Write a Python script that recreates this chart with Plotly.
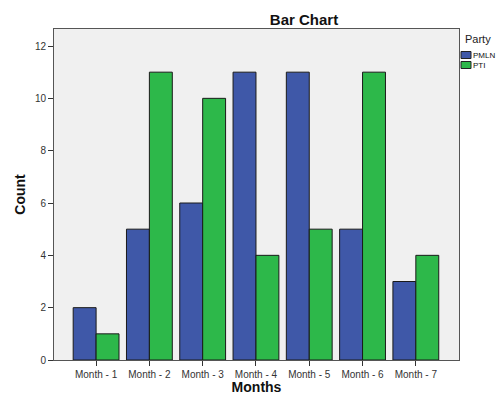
import plotly.graph_objects as go

months = ["Month - 1", "Month - 2", "Month - 3", "Month - 4", "Month - 5", "Month - 6", "Month - 7"]
pmln = [2, 5, 6, 11, 11, 5, 3]
pti = [1, 11, 10, 4, 5, 11, 4]
y_ticks = [0, 2, 4, 6, 8, 10, 12]
series_names = ["PMLN", "PTI"]
series_colors = ["#3F58A8", "#2DB84A"]

W, H = 496, 395
L, R, T, B = 54, 37, 29, 35

fig = go.Figure()
for name, vals, col in zip(series_names, [pmln, pti], series_colors):
    fig.add_trace(go.Bar(x=months, y=vals, name=name, showlegend=False,
                         marker=dict(color=col, line=dict(color="#1a1a1a", width=1))))

# manual legend in paper coords (outside plot area at right)
pw, ph = W - L - R, H - T - B
def px_x(x):
    return (x - L) / pw
def px_y(y):
    return (H - B - y) / ph

shapes = []
annotations = [dict(text="Party", x=px_x(463), y=px_y(39), xref="paper", yref="paper",
                    xanchor="left", yanchor="middle", showarrow=False,
                    font=dict(size=11, color="#222"))]
for i, (name, col) in enumerate(zip(series_names, series_colors)):
    yc = 55 + i * 10
    shapes.append(dict(type="rect", xref="paper", yref="paper",
                       x0=px_x(461), x1=px_x(471), y0=px_y(yc - 3.5), y1=px_y(yc + 3.5),
                       fillcolor=col, line=dict(color="#222", width=1)))
    annotations.append(dict(text=name, x=px_x(471), y=px_y(yc), xref="paper", yref="paper",
                            xanchor="left", yanchor="middle", showarrow=False,
                            font=dict(size=8, color="#111")))

fig.update_layout(
    width=W, height=H,
    margin=dict(l=L, r=R, t=T, b=B, autoexpand=False),
    paper_bgcolor="white", plot_bgcolor="#F0F0F0",
    barmode="group", bargap=0.14, bargroupgap=0,
    font=dict(family="Liberation Sans, Arial, sans-serif", size=10, color="#333"),
    title=dict(text="<b>Bar Chart</b>", x=304/W, xanchor="center", y=1-20/H, yanchor="middle",
               font=dict(size=15, color="#111")),
    shapes=shapes, annotations=annotations,
    showlegend=False,
)
fig.update_xaxes(
    range=[-0.79, 6.81], showline=True, linecolor="#555", linewidth=1, mirror=True,
    ticks="outside", ticklen=5, tickcolor="#333", showgrid=False,
    title=dict(text="<b>Months</b>", font=dict(size=14, color="#111"), standoff=10),
    tickfont=dict(size=10, color="#333"),
)
fig.update_yaxes(
    range=[0, 12.65], tickvals=y_ticks, showline=True, linecolor="#555", linewidth=1, mirror=True,
    ticks="outside", ticklen=5, tickcolor="#333", showgrid=False, zeroline=False,
    title=dict(text="<b>Count</b>", font=dict(size=14, color="#111"), standoff=5),
    tickfont=dict(size=10, color="#333"),
)

fig.write_html("out.html", config={"displayModeBar": False},
               post_script="document.body.style.margin='0';document.body.style.padding='0';")
